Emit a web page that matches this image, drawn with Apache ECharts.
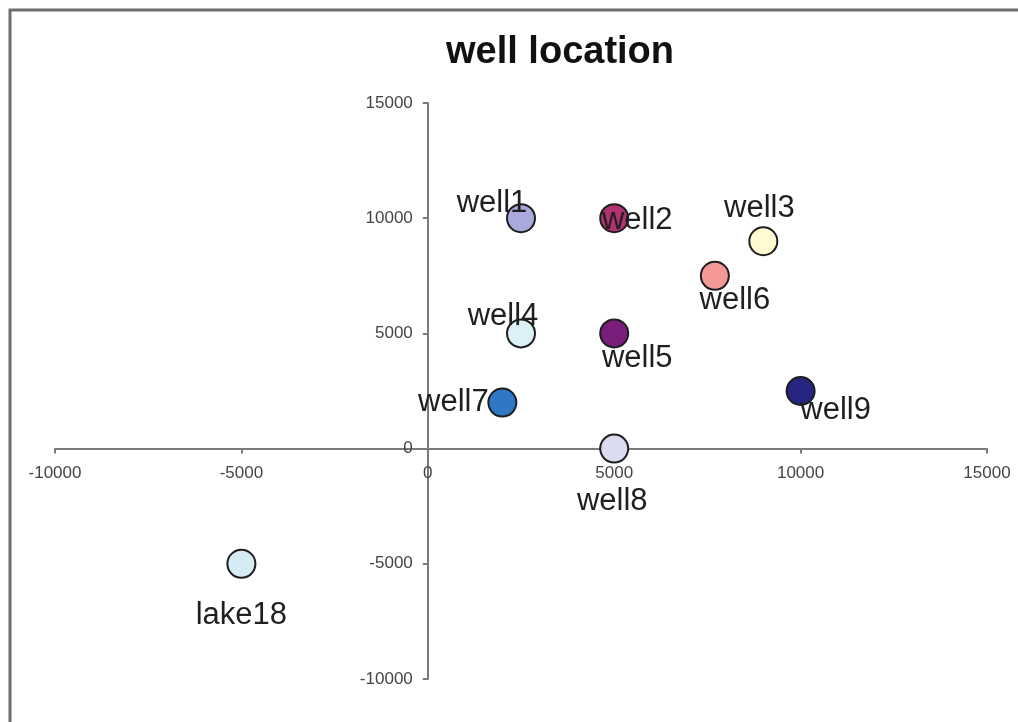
<!DOCTYPE html>
<html>
<head>
<meta charset="utf-8">
<script src="https://cdn.jsdelivr.net/npm/echarts@6/dist/echarts.min.js"></script>
<style>
html,body{margin:0;padding:0;background:#fff;}
#c{width:1018px;height:722px;}
</style>
</head>
<body>
<div id="c"></div>
<script>
const names = ['well1','well2','well3','well4','well5','well6','well7','well8','well9','lake18'];
const xValues = [2500, 5000, 9000, 2500, 5000, 7700, 2000, 5000, 10000, -5000];
const yValues = [10000, 10000, 9000, 5000, 5000, 7500, 2000, 0, 2500, -5000];
const xTicks = [-10000, -5000, 0, 5000, 10000, 15000];
const yTicks = [-10000, -5000, 0, 5000, 10000, 15000];

const pointColors = {
  well1:'#a9a9dc', well2:'#b03270', well3:'#fffad0', well4:'#dcf1f7', well5:'#7b1d7b',
  well6:'#f49898', well7:'#2e78c6', well8:'#dcdcf0', well9:'#262682', lake18:'#d6ecf5'
};
const labelOffsets = {
  well1:[-29,-15], well2:[23,2], well3:[-4,-33], well4:[-18,-17], well5:[23,25],
  well6:[20,25], well7:[-49,0], well8:[-2,53], well9:[35,19], lake18:[0,52]
};

const chart = echarts.init(document.getElementById('c'));
const data = names.map((n, i) => ({
  name: n,
  value: [xValues[i], yValues[i]],
  itemStyle: { color: pointColors[n], borderColor: '#1e1e1e', borderWidth: 2, opacity: 1 },
  label: { show: true, position: 'inside', offset: labelOffsets[n], formatter: n,
    fontSize: 31, color: '#1f1f1f', opacity: 1, fontFamily: 'Liberation Sans, Arial, sans-serif' }
}));

const axisCommon = {
  type: 'value', min: -10000, max: 15000, interval: 5000,
  splitLine: { show: false },
  axisLine: { show: true, onZero: false, lineStyle: { color: '#7a7a7a', width: 2 } },
  axisTick: { show: true, length: 5, lineStyle: { color: '#7a7a7a', width: 2 } },
  axisLabel: { fontSize: 17, color: '#444', fontFamily: 'Liberation Sans, Arial, sans-serif', hideOverlap: false }
};

const option = {
  animation: false,
  backgroundColor: '#fff',
  title: {
    text: 'well location', left: 441, top: 29,
    textStyle: { fontSize: 38, fontWeight: 'bold', color: '#111', fontFamily: 'Liberation Sans, Arial, sans-serif' }
  },
  graphic: [{
    type: 'rect', shape: { x: 10, y: 10, width: 1100, height: 800 },
    style: { fill: 'none', stroke: '#6e6e6e', lineWidth: 3 }, silent: true
  }],
  grid: { left: 55, right: 31, top: 103, bottom: 43, containLabel: false, outerBoundsMode: 'none' },
  xAxis: Object.assign({}, axisCommon, { position: 'bottom', offset: 0,
    axisLabel: Object.assign({}, axisCommon.axisLabel, { margin: 16,
      formatter: v => xTicks.includes(v) ? String(v) : '' })
  }),
  yAxis: Object.assign({}, axisCommon, { position: 'left', offset: 0,
    axisLabel: Object.assign({}, axisCommon.axisLabel, { margin: 15,
      formatter: v => yTicks.includes(v) ? String(v) : '' })
  }),
  series: [{
    type: 'scatter', symbol: 'circle', symbolSize: 28,
    itemStyle: { opacity: 1 },
    data: data
  }]
};
chart.setOption(option);

// Move both axes (line, ticks, labels) onto the zero of the other axis using the library's scales.
const origin = chart.convertToPixel({ gridIndex: 0 }, [0, 0]);
const bottomLeft = chart.convertToPixel({ gridIndex: 0 }, [-10000, -10000]);
chart.setOption({
  xAxis: { offset: -(bottomLeft[1] - origin[1]) },
  yAxis: { offset: -(origin[0] - bottomLeft[0]) }
});
</script>
</body>
</html>
